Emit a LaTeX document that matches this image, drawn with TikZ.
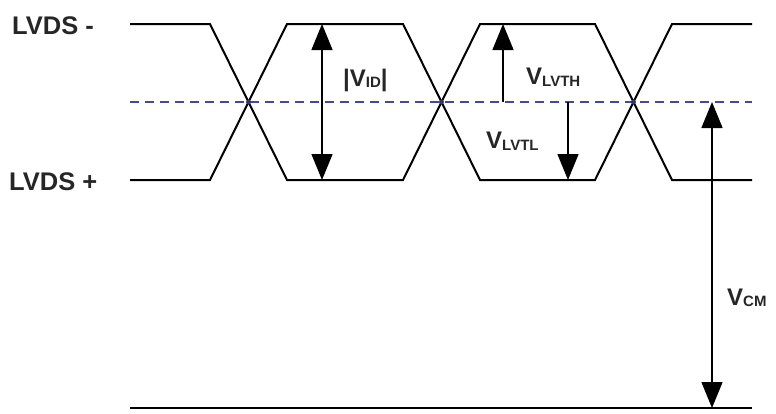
\documentclass[tikz,border=0pt]{standalone}
\usepackage{fontspec}
\setmainfont{Liberation Sans}
\usetikzlibrary{arrows.meta}
\definecolor{dashblue}{HTML}{48489A}
\tikzset{
  sig/.style={line width=2pt, black, line join=miter},
  meas/.style={line width=1.4pt, black, -{Triangle[length=26pt,width=21pt]}},
  measboth/.style={line width=1.4pt, black, {Triangle[length=26pt,width=21pt]}-{Triangle[length=26pt,width=21pt]}},
  mid/.style={line width=2pt, dashblue, dash pattern=on 9pt off 6pt},
  lab/.style={font=\fontsize{25.5}{26}\selectfont\bfseries, text=black!85, inner sep=0pt, anchor=west},
  vlab/.style={font=\fontsize{24}{26}\selectfont\bfseries, text=black!85, inner sep=0pt, anchor=west},
}
\newcommand{\vsub}[1]{V{\fontsize{15}{15}\selectfont\raisebox{-1.5pt}{#1}}}
\begin{document}
\begin{tikzpicture}[x=1pt,y=-1pt]
\useasboundingbox (0,0) rectangle (776,413);
% dashed common-mode line
\draw[mid] (130,102) -- (752,102);
% LVDS -
\draw[sig] (130,24) -- (210,24) -- (287,180) -- (403,180) -- (480,24) -- (595,24) -- (672,180) -- (752,180);
% LVDS +
\draw[sig] (130,180) -- (210,180) -- (287,24) -- (403,24) -- (480,180) -- (595,180) -- (672,24) -- (752,24);
% crossing dots
\foreach \cx in {248.5,441.5,633.5}
  \fill[dashblue!70!black] (\cx,102) circle (2.4pt);
% ground line
\draw[line width=2pt] (130,408) -- (752,408);
% labels
\node[lab] (lm) at (12,26) {LVDS -};
\node[lab] (lp) at (9,182) {LVDS +};
% measurement arrows
\coordinate (vidT) at (322,24);
\coordinate (vidB) at (322,180);
\draw[measboth] (vidT) -- (vidB);
\node[vlab] (vid) at (343,80) {|\vsub{ID}|};
\coordinate (thB) at (503,102);
\coordinate (thT) at (503,24);
\draw[meas] (thB) -- (thT);
\node[vlab] (vth) at (526,77) {\vsub{LVTH}};
\coordinate (tlT) at (568,102);
\coordinate (tlB) at (568,180);
\draw[meas] (tlT) -- (tlB);
\node[vlab] (vtl) at (486,141) {\vsub{LVTL}};
\coordinate (cmT) at (712,102);
\coordinate (cmB) at (712,408);
\draw[measboth] (cmT) -- (cmB);
\node[vlab] (vcm) at (727,298) {\vsub{CM}};
\end{tikzpicture}
\end{document}
